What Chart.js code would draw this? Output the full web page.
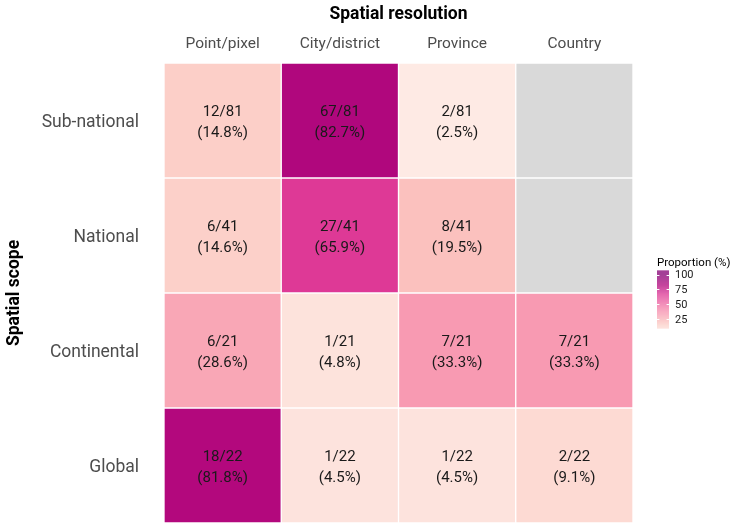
<!DOCTYPE html>
<html>
<head>
<meta charset="utf-8">
<script src="https://cdn.jsdelivr.net/npm/chart.js@4.4.0/dist/chart.umd.min.js"></script>
<style>
  html, body { margin: 0; padding: 0; background: #fff; overflow: hidden; }
  canvas { display: block; }
</style>
</head>
<body>
<canvas id="heatmap" width="744" height="530"></canvas>
<script>
const resolutions = ["Point/pixel", "City/district", "Province", "Country"];
const scopes = ["Sub-national", "National", "Continental", "Global"];
const scopeTotals = [81, 41, 21, 22];
// number of studies per resolution for each scope (null = no data, grey cell)
const subNational = [12, 67, 2, null];
const national = [6, 27, 8, null];
const continental = [6, 1, 7, 7];
const globalScope = [18, 1, 1, 2];
const legendTicks = [25, 50, 75, 100];

const rowCounts = [subNational, national, continental, globalScope];

// RdPu-like ramp, proportion (%) -> colour
const stops = [
  [0, "#fff2ed"], [5, "#fde2db"], [15, "#fccfc8"], [20, "#fbc0bd"],
  [30, "#f9a3b5"], [45, "#f47aa7"], [66, "#de3996"], [82, "#b2077d"], [100, "#850177"]
];
function hex2rgb(h) {
  return [parseInt(h.slice(1, 3), 16), parseInt(h.slice(3, 5), 16), parseInt(h.slice(5, 7), 16)];
}
function colorFor(v) {
  v = Math.max(0, Math.min(100, v));
  for (let i = 1; i < stops.length; i++) {
    if (v <= stops[i][0]) {
      const a = hex2rgb(stops[i - 1][1]), b = hex2rgb(stops[i][1]);
      const t = (v - stops[i - 1][0]) / (stops[i][0] - stops[i - 1][0]);
      const c = a.map((ch, k) => Math.round(ch + (b[k] - ch) * t));
      return "rgb(" + c.join(",") + ")";
    }
  }
  return stops[stops.length - 1][1];
}

const cellLabels = {
  id: "cellLabels",
  afterDatasetsDraw(chart) {
    const ctx = chart.ctx;
    ctx.save();
    ctx.font = "15px Roboto";
    ctx.fillStyle = "#1a1a1a";
    ctx.textAlign = "center";
    ctx.textBaseline = "middle";
    chart.data.datasets.forEach((ds, di) => {
      chart.getDatasetMeta(di).data.forEach((bar, ci) => {
        const n = ds.counts[ci];
        if (n == null) return;
        const c = bar.getCenterPoint();
        ctx.fillText(n + "/" + ds.total, c.x, c.y - 8.5);
        ctx.fillText("(" + (100 * n / ds.total).toFixed(1) + "%)", c.x, c.y + 13);
      });
    });
    ctx.restore();
  }
};

const colorbar = {
  id: "colorbar",
  afterDraw(chart) {
    const ctx = chart.ctx;
    const x = chart.chartArea.right + 24, w = 12;
    const yOf = v => 274.5 + (100 - v) * 0.593;
    const top = yOf(100) - 4, bottom = yOf(25) + 9;
    ctx.save();
    for (let y = top; y < bottom; y++) {
      const v = 100 - (y + 0.5 - 274.5) / 0.593;
      ctx.fillStyle = colorFor(v);
      ctx.fillRect(x, y, w, 1);
    }
    ctx.strokeStyle = "#ffffff";
    ctx.lineWidth = 1;
    ctx.fillStyle = "#1a1a1a";
    ctx.font = "11px Roboto";
    ctx.textAlign = "left";
    ctx.textBaseline = "middle";
    legendTicks.forEach(t => {
      const y = Math.round(yOf(t)) + 0.5;
      ctx.beginPath();
      ctx.moveTo(x, y); ctx.lineTo(x + 2.4, y);
      ctx.moveTo(x + w - 2.4, y); ctx.lineTo(x + w, y);
      ctx.stroke();
      ctx.fillText(String(t), x + w + 6, yOf(t) + 1);
    });
    ctx.font = "11.5px Roboto";
    ctx.fillStyle = "#000000";
    ctx.fillText("Proportion (%)", x, 263);
    ctx.restore();
  }
};

Chart.defaults.font.family = "Roboto";

new Chart(document.getElementById("heatmap"), {
  type: "bar",
  data: {
    labels: resolutions,
    datasets: rowCounts.map((counts, r) => ({
      label: scopes[r],
      data: counts.map(() => [r, r + 1]),
      counts: counts,
      total: scopeTotals[r],
      backgroundColor: counts.map(n => n == null ? "#d9d9d9" : colorFor(100 * n / scopeTotals[r])),
      borderColor: "#ffffff",
      borderWidth: 1,
      borderSkipped: false,
      barPercentage: 1,
      categoryPercentage: 1,
      grouped: false,
    })),
  },
  options: {
    responsive: false,
    animation: false,
    layout: { padding: { left: 0, top: 0, right: 111, bottom: 7 } },
    plugins: {
      legend: { display: false },
      tooltip: { enabled: false },
    },
    scales: {
      x: {
        type: "category",
        position: "top",
        grid: { display: false, drawTicks: false },
        border: { display: false },
        ticks: { padding: 10, color: "#4d4d4d", font: { size: 15.5 } },
        title: {
          display: true,
          text: "Spatial resolution",
          color: "#000000",
          font: { size: 17.5, weight: "bold" },
          padding: { top: 4, bottom: 0 },
        },
        afterFit(s) { s.height = 63; },
      },
      y: {
        type: "linear",
        min: 0,
        max: 4,
        reverse: true,
        grid: { display: false, drawTicks: false },
        border: { display: false },
        // label each row at its middle (nudged ~2px down to sit like the reference)
        afterBuildTicks(s) { s.ticks = [0.5, 1.5, 2.5, 3.5].map(v => ({ value: v + 0.018 })); },
        ticks: {
          padding: 25,
          color: "#4d4d4d",
          font: { size: 17.5 },
          callback: v => scopes[Math.floor(v)],
        },
        title: {
          display: true,
          text: "Spatial scope",
          color: "#000000",
          font: { size: 17.5, weight: "bold" },
          padding: { top: 4.5, bottom: 0 },
        },
        afterFit(s) {
          s.width = 164;
          s.paddingTop = 0;
          s.paddingBottom = 0;
        },
      },
    },
  },
  plugins: [cellLabels, colorbar],
});
</script>
</body>
</html>
